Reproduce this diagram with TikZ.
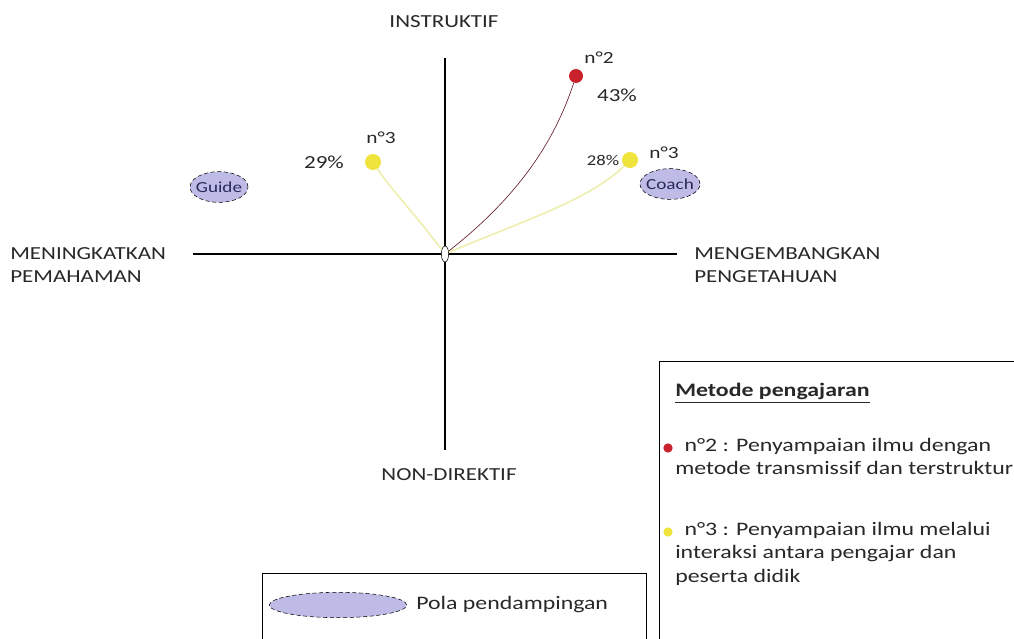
\documentclass[tikz,border=0pt]{standalone}
\usepackage{fontspec}
\setmainfont{Carlito}[FakeStretch=1.25]
\usetikzlibrary{shapes.geometric}

\begin{document}
\begin{tikzpicture}[x=0.75pt,y=-0.75pt]

\def\textsize{13.8}
\definecolor{dotred}{RGB}{200,35,45}
\definecolor{dotyellow}{RGB}{240,228,60}
\definecolor{lineyellow}{RGB}{238,238,175}
\definecolor{linered}{RGB}{105,35,45}
\definecolor{lavender}{RGB}{190,188,230}
\definecolor{textgray}{RGB}{40,40,40}
\definecolor{navy}{RGB}{40,40,90}
\tikzset{
  axislabel/.style={font=\fontsize{\textsize}{17.25}\selectfont, text=textgray, inner sep=0pt},
  numlabel/.style={font=\fontsize{12.8}{15}\selectfont, text=textgray, inner sep=0pt},
  dot/.style={circle, minimum size=12pt, inner sep=0pt},
  pola/.style={ellipse, draw, densely dashed, fill=lavender, inner sep=0pt},
  legend/.style={font=\fontsize{14.3}{17.5}\selectfont, text=textgray, anchor=west, align=left, inner sep=0pt}
}
\useasboundingbox (0,0) rectangle (1014,639);
\coordinate (center) at (445,254);

% axes
\coordinate (top) at (445,58);
\coordinate (bottom) at (445,450);
\coordinate (left) at (193,254);
\coordinate (right) at (677,254);
\draw[thick] (top) -- (bottom);
\draw[thick] (left) -- (right);

\node[axislabel] (instruktif) at (444,22) {INSTRUKTIF};
\node[axislabel] (nondirektif) at (449,475) {NON-DIREKTIF};
\node[axislabel, anchor=west, align=left] (pemahaman) at (10,265.5) {MENINGKATKAN\\PEMAHAMAN};
\node[axislabel, anchor=west, align=left] (pengetahuan) at (694,265.5) {MENGEMBANGKAN\\PENGETAHUAN};

% dots
\node[dot, fill=dotred, minimum size=10.5pt] (n2) at (576,76) {};
\node[dot, fill=dotyellow] (n3left) at (373,162) {};
\node[dot, fill=dotyellow] (n3right) at (630,160) {};

\node[numlabel] (n2label) at (599,58) {n°2};
\node[numlabel, font=\fontsize{13.8}{16}\selectfont] (n2pct) at (617,95) {43\%};
\node[numlabel] (n3leftlabel) at (381,138) {n°3};
\node[numlabel, font=\fontsize{13.8}{16}\selectfont] (n3leftpct) at (324,162) {29\%};
\node[numlabel, font=\fontsize{11.2}{13}\selectfont] (n3rightpct) at (603,160) {28\%};
\node[numlabel] (n3rightlabel) at (664,153) {n°3};

% pola pendampingan
\node[pola, minimum width=43.5pt, minimum height=23pt, inner xsep=-2pt, text=navy, font=\fontsize{11.5}{13}\selectfont] (guide) at (219,187) {Guide};
\node[pola, minimum width=45pt, minimum height=23pt, inner xsep=-2pt, text=navy, font=\fontsize{11.5}{13}\selectfont] (coach) at (670,184) {Coach};

% curves
\node[ellipse, draw, fill=white, minimum width=5.5pt, minimum height=12pt, inner sep=0pt] (origin) at (center) {};
\draw[line width=1.2pt, lineyellow] (origin) .. controls (418,218) and (390,188) .. (n3left);
\draw[line width=1.2pt, lineyellow] (origin) .. controls (520,222) and (590,200) .. (n3right);
\draw[line width=0.5pt, linered] (origin) .. controls (520,195) and (555,140) .. (n2);

% legend boxes
\draw (262,645) -- (262,573) -- (646,573) -- (646,645);
\node[pola, minimum width=103pt, minimum height=19pt] (polaicon) at (338,605) {};
\node[legend] (polatext) at (416,605) {Pola pendampingan};

\draw (1020,361) -- (659,361) -- (659,645);
\node[legend, font=\fontsize{14.3}{17.5}\selectfont\bfseries] (legendtitle) at (675,393) {\underline{Metode pengajaran}};
\node[dot, fill=dotred, minimum size=7pt] (bulletred) at (668,448) {};
\node[legend, anchor=north west] (legendred) at (675,438) {\hspace*{7pt}n°2 : Penyampaian ilmu dengan\\metode transmissif dan terstruktur};
\node[dot, fill=dotyellow, minimum size=7pt] (bulletyellow) at (668,532) {};
\node[legend, anchor=north west] (legendyellow) at (675,522) {\hspace*{7pt}n°3 : Penyampaian ilmu melalui\\interaksi antara pengajar dan\\peserta didik};

\end{tikzpicture}
\end{document}
